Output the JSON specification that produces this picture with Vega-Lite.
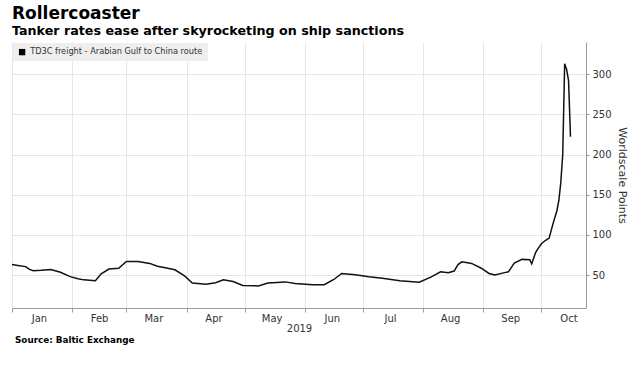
{
  "$schema": "https://vega.github.io/schema/vega-lite/v6.json",
  "background": "white",
  "padding": {"left": 9, "top": 5, "right": 0, "bottom": 0},
  "title": {
    "text": "Rollercoaster",
    "subtitle": "Tanker rates ease after skyrocketing on ship sanctions",
    "anchor": "start",
    "frame": "group",
    "font": "DejaVu Sans",
    "fontSize": 17,
    "fontWeight": "bold",
    "color": "#000000",
    "subtitleFont": "DejaVu Sans",
    "subtitleFontSize": 12.7,
    "subtitleFontWeight": "bold",
    "subtitleColor": "#000000",
    "subtitlePadding": 2,
    "offset": 3
  },
  "config": {
    "view": {"stroke": null},
    "axis": {
      "labelFont": "DejaVu Sans",
      "titleFont": "DejaVu Sans",
      "labelColor": "#333333",
      "titleColor": "#333333",
      "gridColor": "#e6e6e6",
      "domainColor": "#999999",
      "tickColor": "#999999"
    }
  },
  "vconcat": [
    {
      "width": 574,
      "height": 266,
      "title": {
        "text": "Source: Baltic Exchange",
        "orient": "bottom",
        "anchor": "start",
        "frame": "group",
        "font": "DejaVu Sans",
        "fontSize": 8.8,
        "fontWeight": "bold",
        "color": "#000000",
        "offset": 3,
        "dx": 3
      },
      "data": {
        "values": [
          {"date": "2019-01-01T00:00", "value": 63},
          {"date": "2019-01-04T00:00", "value": 62},
          {"date": "2019-01-08T00:00", "value": 60.5},
          {"date": "2019-01-10T00:00", "value": 57},
          {"date": "2019-01-12T00:00", "value": 55.5},
          {"date": "2019-01-16T00:00", "value": 56},
          {"date": "2019-01-21T00:00", "value": 57},
          {"date": "2019-01-26T00:00", "value": 53.5},
          {"date": "2019-01-31T00:00", "value": 48},
          {"date": "2019-02-04T00:00", "value": 45.5},
          {"date": "2019-02-07T00:00", "value": 44},
          {"date": "2019-02-13T00:00", "value": 43},
          {"date": "2019-02-16T00:00", "value": 51.5},
          {"date": "2019-02-20T00:00", "value": 57.5},
          {"date": "2019-02-25T00:00", "value": 58.5},
          {"date": "2019-03-01T00:00", "value": 67},
          {"date": "2019-03-07T00:00", "value": 67},
          {"date": "2019-03-13T00:00", "value": 64.5},
          {"date": "2019-03-17T00:00", "value": 61},
          {"date": "2019-03-21T00:00", "value": 59},
          {"date": "2019-03-26T00:00", "value": 56.5},
          {"date": "2019-03-31T00:00", "value": 49},
          {"date": "2019-04-04T00:00", "value": 40},
          {"date": "2019-04-11T00:00", "value": 38.5},
          {"date": "2019-04-16T00:00", "value": 40.5},
          {"date": "2019-04-20T00:00", "value": 44},
          {"date": "2019-04-25T00:00", "value": 42},
          {"date": "2019-04-30T00:00", "value": 37},
          {"date": "2019-05-08T00:00", "value": 36.5},
          {"date": "2019-05-13T00:00", "value": 40},
          {"date": "2019-05-22T00:00", "value": 41.5},
          {"date": "2019-05-27T00:00", "value": 39.5},
          {"date": "2019-06-05T00:00", "value": 38},
          {"date": "2019-06-11T00:00", "value": 38},
          {"date": "2019-06-16T00:00", "value": 44.5},
          {"date": "2019-06-20T00:00", "value": 52},
          {"date": "2019-06-27T00:00", "value": 50.5},
          {"date": "2019-07-04T00:00", "value": 48},
          {"date": "2019-07-11T00:00", "value": 46},
          {"date": "2019-07-20T00:00", "value": 43},
          {"date": "2019-07-30T00:00", "value": 41},
          {"date": "2019-08-05T00:00", "value": 47.5},
          {"date": "2019-08-10T00:00", "value": 54},
          {"date": "2019-08-14T00:00", "value": 53},
          {"date": "2019-08-17T00:00", "value": 55},
          {"date": "2019-08-19T00:00", "value": 63},
          {"date": "2019-08-21T00:00", "value": 66.5},
          {"date": "2019-08-26T00:00", "value": 64.5},
          {"date": "2019-08-31T00:00", "value": 58.5},
          {"date": "2019-09-04T00:00", "value": 52},
          {"date": "2019-09-07T00:00", "value": 50},
          {"date": "2019-09-12T00:00", "value": 53},
          {"date": "2019-09-14T00:00", "value": 54},
          {"date": "2019-09-17T00:00", "value": 65},
          {"date": "2019-09-21T00:00", "value": 69.5},
          {"date": "2019-09-25T00:00", "value": 69},
          {"date": "2019-09-26T00:00", "value": 64},
          {"date": "2019-09-28T00:00", "value": 78},
          {"date": "2019-09-29T00:00", "value": 82},
          {"date": "2019-10-01T00:00", "value": 89},
          {"date": "2019-10-03T00:00", "value": 93},
          {"date": "2019-10-05T00:00", "value": 96},
          {"date": "2019-10-07T00:00", "value": 114},
          {"date": "2019-10-09T00:00", "value": 130},
          {"date": "2019-10-10T00:00", "value": 143},
          {"date": "2019-10-11T00:00", "value": 165},
          {"date": "2019-10-12T00:00", "value": 200},
          {"date": "2019-10-13T00:00", "value": 313},
          {"date": "2019-10-14T00:00", "value": 306},
          {"date": "2019-10-15T00:00", "value": 292},
          {"date": "2019-10-16T00:00", "value": 222}
        ]
      },
      "mark": {"type": "line", "strokeWidth": 1.5},
      "encoding": {
        "x": {
          "field": "date",
          "type": "temporal",
          "scale": {
            "domain": [
              {"year": 2019, "month": 1, "date": 1},
              {"year": 2019, "month": 10, "date": 24}
            ]
          },
          "axis": {
            "title": "2019",
            "format": "%b",
            "tickCount": {"interval": "month", "step": 1},
            "labelOffset": 27,
            "labelFlush": false,
            "labelOverlap": false,
            "grid": true,
            "tickSize": 4,
            "labelFontSize": 10,
            "labelPadding": 1,
            "titleFontSize": 10,
            "titleFontWeight": "normal",
            "titlePadding": 0
          }
        },
        "y": {
          "field": "value",
          "type": "quantitative",
          "scale": {"domain": [9, 340], "nice": false, "zero": false},
          "axis": {
            "orient": "right",
            "title": "Worldscale Points",
            "values": [50, 100, 150, 200, 250, 300],
            "grid": true,
            "tickSize": 3,
            "labelFontSize": 10,
            "labelPadding": 3,
            "titleFontSize": 11,
            "titleFontWeight": "normal",
            "titlePadding": 5
          }
        },
        "color": {
          "datum": "TD3C freight - Arabian Gulf to China route",
          "type": "nominal",
          "scale": {"range": ["#111111"]},
          "legend": {
            "title": null,
            "orient": "top-left",
            "offset": 1,
            "fillColor": "#eeeeee",
            "padding": 5,
            "symbolType": "square",
            "symbolSize": 40,
            "symbolFillColor": "#000000",
            "symbolStrokeColor": "#000000",
            "labelFont": "DejaVu Sans",
            "labelFontSize": 8.2,
            "labelColor": "#333333",
            "labelLimit": 300,
            "encode": {
              "symbols": {
                "update": {
                  "fill": {"value": "#000000"},
                  "stroke": {"value": "#000000"},
                  "strokeWidth": {"value": 0}
                }
              }
            }
          }
        }
      }
    }
  ]
}
